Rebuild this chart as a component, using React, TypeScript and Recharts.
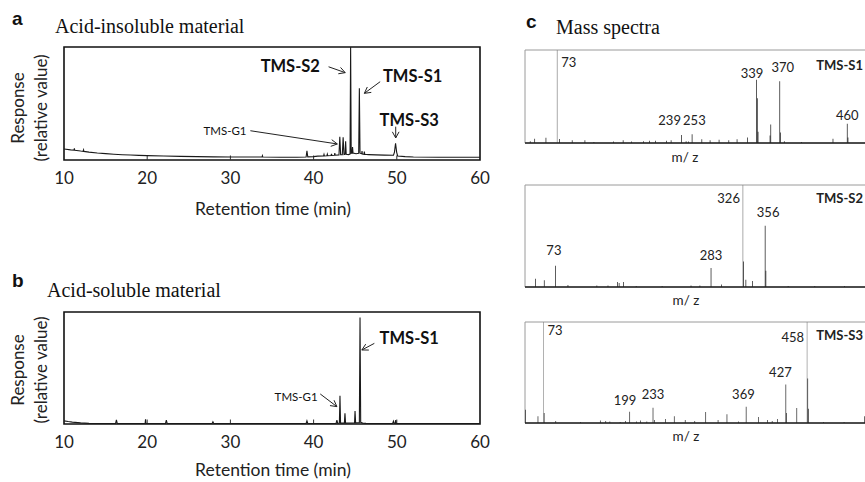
import {
  LineChart,
  Line,
  BarChart,
  Bar,
  Cell,
  XAxis,
  YAxis,
  ReferenceArea,
  ReferenceLine,
  ReferenceDot,
} from "recharts";

const SANS = "Lato, 'Open Sans', sans-serif";
const SERIF = "'Liberation Serif', 'Times New Roman', serif";
const BOLD = "'Liberation Sans', Arial, sans-serif";

// retention-time axis
const rtTicks = [10, 20, 30, 40, 50, 60];
const rtMarks = [20, 30, 40, 50];

// a: acid-insoluble material (relative response, % of box height)
const aTime = [
  10.0, 10.8, 11.2, 11.25, 11.3, 12.0, 12.3, 12.35, 12.4, 13.0, 14.0, 15.0,
  16.0, 17.0, 18.0, 19.0, 20.0, 22.0, 24.0, 26.0, 28.0, 30.0, 32.0, 33.8,
  33.85, 33.9, 36.0, 38.0, 39.1, 39.2, 39.3, 40.0, 40.5, 41.2, 41.25, 41.3,
  41.6, 41.65, 41.7, 42.1, 42.15, 42.2, 42.5, 42.55, 42.6, 43.05, 43.15, 43.25,
  43.45, 43.55, 43.65, 43.78, 43.85, 43.92, 44.2, 44.38, 44.45, 44.52, 44.62,
  44.68, 44.74, 45.1, 45.42, 45.5, 45.58, 45.78, 45.82, 45.86, 46.05, 46.1,
  46.15, 46.6, 47.5, 48.5, 49.6, 49.72, 49.85, 49.98, 50.1, 51.0, 52.0, 55.0,
  60.0,
];
const aResp = [
  9.8, 9.0, 8.8, 10.2, 8.6, 7.9, 7.7, 9.0, 7.6, 7.0, 6.2, 5.6,
  5.1, 4.7, 4.4, 4.1, 3.9, 3.5, 3.2, 3.0, 2.8, 2.7, 2.6, 2.6,
  3.8, 2.6, 2.5, 2.5, 2.6, 8.2, 2.8, 3.0, 3.4, 3.6, 5.0, 3.6,
  3.8, 5.2, 3.8, 4.0, 5.5, 4.0, 4.2, 6.0, 4.2, 4.5, 20.5, 4.6,
  4.6, 20.0, 4.8, 5.0, 16.5, 5.0, 4.8, 5.2, 100, 6.0, 6.2,
  11.5, 6.2, 5.5, 6.0, 63.4, 6.0, 5.5, 8.0, 5.2, 5.0, 7.5,
  5.0, 4.8, 4.5, 4.3, 4.2, 7.0, 14.8, 7.0, 3.6, 3.0, 2.6, 2.5,
  2.4,
];

// b: acid-soluble material
const bTime = [
  10.0, 10.5, 11.0, 12.0, 13.0, 14.0, 16.2, 16.3, 16.4, 19.75, 19.8, 19.85,
  22.2, 22.3, 22.4, 27.8, 27.9, 28.0, 39.1, 39.2, 39.3, 42.7, 42.8, 42.9,
  43.1, 43.17, 43.24, 43.7, 43.77, 43.84, 44.92, 44.98, 45.05, 45.5, 45.58,
  45.66, 45.9, 46.3, 49.5, 49.6, 49.7, 49.82, 49.87, 49.93, 52.0, 60.0,
];
const bResp = [
  2.8, 2.2, 1.7, 1.0, 0.6, 0.5, 0.5, 3.6, 0.5, 0.5, 4.2, 0.5,
  0.5, 3.4, 0.5, 0.5, 2.0, 0.5, 0.5, 2.8, 0.5, 0.6, 3.5, 0.6,
  0.8, 25.3, 0.8, 0.8, 9.5, 0.8, 1.0, 11.6, 1.0, 1.2, 95,
  1.5, 0.8, 0.6, 0.5, 2.5, 0.5, 0.5, 3.6, 0.5, 0.5, 0.5,
];

// c: mass spectra (m/z, relative abundance)
const s1Mz = [
  37, 43, 58, 73, 76, 93, 110, 122, 148, 161, 172, 188, 196, 204, 219, 225,
  239, 245, 248, 253, 266, 277, 289, 302, 313, 327, 339, 340, 341, 357, 358,
  370, 371, 376, 399, 441, 460, 461,
];
const s1Int = [
  2, 4.6, 5.7, 100, 4.3, 3, 3, 1, 1.5, 3, 1.5, 2, 2.5, 2.5, 2.5, 3,
  8.6, 2, 1.5, 9.3, 4, 3, 3.5, 3, 4, 6, 67.9, 48, 12, 8, 20,
  66.4, 11.4, 2, 1, 4.6, 20.7, 6,
];

const s2Mz = [
  46, 58, 73, 90, 129, 144, 157, 159, 165, 182, 217, 256, 268, 283, 297, 326,
  327, 330, 339, 356, 357, 387, 423, 463,
];
const s2Int = [
  8, 6.5, 20.8, 2, 1.5, 1.5, 5, 4, 5, 1, 1, 1.5, 1.5, 18.6, 2.5, 100,
  25, 7, 6, 60, 16, 1, 1, 1,
];

const s3Mz = [
  47, 65, 73, 74, 91, 127, 156, 164, 170, 185, 193, 199, 209, 215, 224, 233,
  235, 251, 264, 280, 294, 310, 328, 341, 358, 369, 387, 400, 407, 415, 427,
  428, 443, 458, 459, 460, 482, 512, 542,
];
const s3Int = [
  13, 6.6, 100, 10, 2, 1, 2.5, 2, 1.5, 1, 2, 11.2, 1.5, 2.5, 1.5, 15.2,
  3, 4, 6.6, 3, 2, 11, 3, 8.6, 1.5, 16.2, 6, 3, 2, 4, 38,
  10, 14.9, 100, 44, 14, 1, 1, 6.6,
];

type Note = { text: string; t: number; r: number; small?: boolean };
type Arrow = { from: [number, number]; to: [number, number] };
type PeakLabel = { text: string; x: number; y: number; side: "center" | "left" | "right"; bold?: boolean };

const aNotes: Note[] = [
  { text: "TMS-S2", t: 37.2, r: 83 },
  { text: "TMS-S1", t: 51.9, r: 74 },
  { text: "TMS-S3", t: 51.5, r: 35 },
  { text: "TMS-G1", t: 29.35, r: 26, small: true },
];
const aArrows: Arrow[] = [
  { from: [41.8, 82.5], to: [43.8, 77.3] },
  { from: [48.0, 69.3], to: [46.1, 59] },
  { from: [49.87, 29.5], to: [49.87, 19.5] },
  { from: [32.4, 25.9], to: [42.85, 14.2] },
];
const bNotes: Note[] = [
  { text: "TMS-S1", t: 51.5, r: 76.5 },
  { text: "TMS-G1", t: 37.9, r: 24.4, small: true },
];
const bArrows: Arrow[] = [
  { from: [47.3, 72], to: [45.8, 66.1] },
  { from: [40.8, 26.8], to: [42.8, 15.5] },
];

// label anchors (x in m/z units where the text sits, y in % of box)
const s1Labels: PeakLabel[] = [
  { text: "73", x: 73, y: 87, side: "right" },
  { text: "239", x: 223, y: 24.4, side: "center" },
  { text: "253", x: 256, y: 24.4, side: "center" },
  { text: "339", x: 333, y: 74.6, side: "center" },
  { text: "370", x: 374, y: 81, side: "center" },
  { text: "460", x: 460, y: 29.8, side: "center" },
  { text: "TMS-S1", x: 485, y: 83.5, side: "left", bold: true },
];
const s2Labels: PeakLabel[] = [
  { text: "73", x: 71, y: 36.3, side: "center" },
  { text: "283", x: 283, y: 31.4, side: "center" },
  { text: "326", x: 326, y: 87.3, side: "left" },
  { text: "356", x: 360, y: 73, side: "center" },
  { text: "TMS-S2", x: 492, y: 87.3, side: "left", bold: true },
];
const s3Labels: PeakLabel[] = [
  { text: "73", x: 73, y: 92, side: "right" },
  { text: "199", x: 192, y: 22.8, side: "center" },
  { text: "233", x: 233, y: 28.2, side: "center" },
  { text: "369", x: 365, y: 28.2, side: "center" },
  { text: "427", x: 419, y: 50, side: "center" },
  { text: "458", x: 458, y: 84.7, side: "left" },
  { text: "TMS-S3", x: 544, y: 87.1, side: "left", bold: true },
];

const ArrowShape = (p: any) => {
  const { x1, y1, x2, y2 } = p;
  const a = Math.atan2(y2 - y1, x2 - x1);
  const len = 7;
  const w = 0.5;
  const h1 = `${x2 - len * Math.cos(a - w)},${y2 - len * Math.sin(a - w)}`;
  const h2 = `${x2 - len * Math.cos(a + w)},${y2 - len * Math.sin(a + w)}`;
  return (
    <g stroke="#222" strokeWidth={1} fill="none">
      <line x1={x1} y1={y1} x2={x2} y2={y2} />
      <polyline points={`${h1} ${x2},${y2} ${h2}`} />
    </g>
  );
};

function Chromatogram({
  time,
  resp,
  notes,
  arrows,
  top,
  plotH,
}: {
  time: number[];
  resp: number[];
  notes: Note[];
  arrows: Arrow[];
  top: number;
  plotH: number;
}) {
  const data = time.map((t, i) => ({ t, r: resp[i] }));
  return (
    <div style={{ position: "absolute", left: 0, top: top - 10 }}>
      <LineChart
        width={500}
        height={10 + plotH + 30}
        data={data}
        margin={{ top: 10, right: 20, bottom: 0, left: 64 }}
      >
        <XAxis
          dataKey="t"
          type="number"
          domain={[10, 60]}
          ticks={rtTicks}
          interval={0}
          allowDataOverflow
          axisLine={false}
          tickLine={false}
          tickSize={6}
          tickMargin={6}
          height={30}
          tick={{ fontSize: 17, fill: "#222", fontFamily: SANS }}
        />
        <YAxis type="number" domain={[0, 100]} hide allowDataOverflow />
        <ReferenceArea
          x1={10}
          x2={60}
          y1={0}
          y2={100}
          fill="none"
          stroke="#111"
          strokeWidth={1.6}
          ifOverflow="visible"
        />
        {rtMarks.map((t) => (
          <ReferenceLine
            key={"m" + t}
            segment={[
              { x: t, y: 0 },
              { x: t, y: 4 },
            ]}
            stroke="#333"
            ifOverflow="visible"
          />
        ))}
        <Line
          dataKey="r"
          type="linear"
          stroke="#1a1a1a"
          strokeWidth={1.1}
          dot={false}
          isAnimationActive={false}
        />
        {arrows.map((a, i) => (
          <ReferenceLine
            key={"a" + i}
            segment={[
              { x: a.from[0], y: a.from[1] },
              { x: a.to[0], y: a.to[1] },
            ]}
            shape={ArrowShape}
            ifOverflow="visible"
          />
        ))}
        {notes.map((n) => (
          <ReferenceDot
            key={n.text}
            x={n.t}
            y={n.r}
            r={0}
            fill="none"
            stroke="none"
            ifOverflow="visible"
            label={{
              value: n.text,
              position: "center",
              fontSize: n.small ? 11.5 : 16.5,
              fontWeight: n.small ? 400 : 700,
              fill: "#111",
              fontFamily: SANS,
            }}
          />
        ))}
      </LineChart>
    </div>
  );
}

function Spectrum({
  mz,
  inten,
  domain,
  labels,
  top,
  plotH,
}: {
  mz: number[];
  inten: number[];
  domain: [number, number];
  labels: PeakLabel[];
  top: number;
  plotH: number;
}) {
  const data = mz.map((m, i) => ({ m, h: inten[i] }));
  return (
    <div style={{ position: "absolute", left: 505, top: top - 10 }}>
      <BarChart
        width={375}
        height={10 + plotH + 2}
        data={data}
        margin={{ top: 10, right: 14, bottom: 0, left: 20 }}
      >
        <XAxis
          dataKey="m"
          type="number"
          domain={domain}
          allowDataOverflow
          tick={false}
          tickLine={false}
          axisLine={{ stroke: "#222", strokeWidth: 1.4 }}
          height={2}
        />
        <YAxis type="number" domain={[0, 100]} hide allowDataOverflow />
        <ReferenceArea
          x1={domain[0]}
          x2={domain[1]}
          y1={0}
          y2={100}
          fill="none"
          stroke="#9a9a9a"
          ifOverflow="visible"
        />
        <Bar dataKey="h" barSize={1.7} isAnimationActive={false}>
          {data.map((d, i) => (
            <Cell key={i} fill={d.h >= 100 ? "#808080" : "#0d0d0d"} />
          ))}
        </Bar>
        {labels.map((l) => (
          <ReferenceDot
            key={l.text}
            x={l.x}
            y={l.y}
            r={0}
            fill="none"
            stroke="none"
            ifOverflow="visible"
            label={{
              value: l.text,
              position: l.side,
              offset: l.side === "right" ? 4 : 3,
              fontSize: 13,
              fontWeight: l.bold ? 700 : 400,
              fill: "#222",
              fontFamily: SANS,
            }}
          />
        ))}
      </BarChart>
    </div>
  );
}

export default function App() {
  const yLab = { fontFamily: SANS, fontSize: 17, fill: "#222", textAnchor: "middle" as const };
  return (
    <div
      style={{
        position: "absolute",
        left: 0,
        top: 0,
        width: 865,
        height: 482,
        overflow: "hidden",
        background: "#fff",
      }}
    >
      <svg width={865} height={482} style={{ position: "absolute", left: 0, top: 0 }}>
        <text x={12} y={25} fontFamily={BOLD} fontWeight="bold" fontSize={19} fill="#111">a</text>
        <text x={55} y={33} fontFamily={SERIF} fontSize={20} fill="#111">Acid-insoluble material</text>
        <text x={12} y={287} fontFamily={BOLD} fontWeight="bold" fontSize={19} fill="#111">b</text>
        <text x={47} y={297} fontFamily={SERIF} fontSize={20} fill="#111">Acid-soluble material</text>
        <text x={526} y={28} fontFamily={BOLD} fontWeight="bold" fontSize={19} fill="#111">c</text>
        <text x={556} y={34} fontFamily={SERIF} fontSize={20} fill="#111">Mass spectra</text>

        <text transform="translate(24,108) rotate(-90)" {...yLab}>Response</text>
        <text transform="translate(47,108) rotate(-90)" {...yLab}>(relative value)</text>
        <text transform="translate(24,370) rotate(-90)" {...yLab}>Response</text>
        <text transform="translate(47,370) rotate(-90)" {...yLab}>(relative value)</text>

        <text x={273} y={215} {...yLab} fontSize={17.5}>Retention time (min)</text>
        <text x={273} y={476} {...yLab} fontSize={17.5}>Retention time (min)</text>

        <text x={685} y={162} {...yLab} fontSize={13.5}>m/ z</text>
        <text x={686} y={305} {...yLab} fontSize={13.5}>m/ z</text>
        <text x={686} y={441} {...yLab} fontSize={13.5}>m/ z</text>
      </svg>

      <Chromatogram time={aTime} resp={aResp} notes={aNotes} arrows={aArrows} top={47} plotH={113} />
      <Chromatogram time={bTime} resp={bResp} notes={bNotes} arrows={bArrows} top={312} plotH={112} />

      <Spectrum mz={s1Mz} inten={s1Int} domain={[30, 485]} labels={s1Labels} top={50} plotH={93} />
      <Spectrum mz={s2Mz} inten={s2Int} domain={[32, 492]} labels={s2Labels} top={185} plotH={102} />
      <Spectrum mz={s3Mz} inten={s3Int} domain={[46, 544]} labels={s3Labels} top={322} plotH={101} />
    </div>
  );
}
